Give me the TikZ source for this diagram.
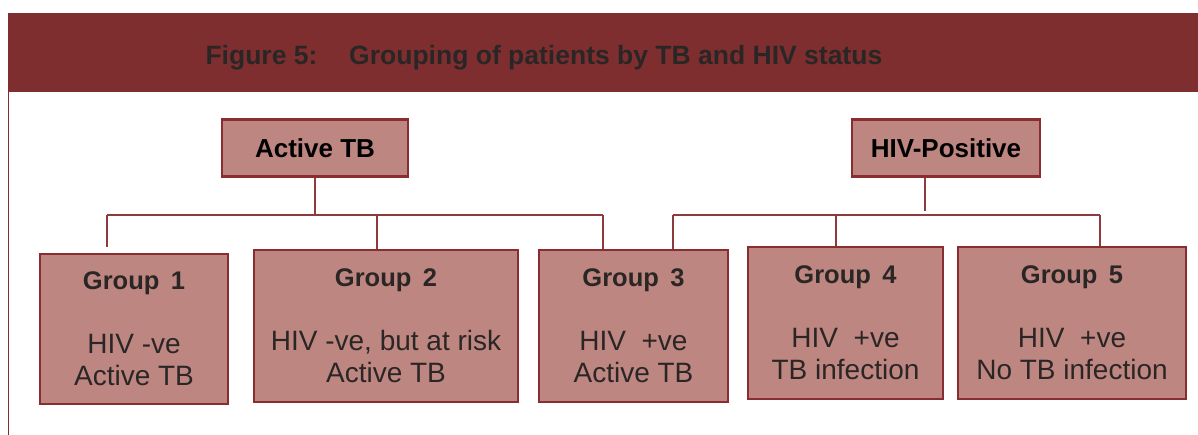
\documentclass[tikz,border=0pt]{standalone}
\usepackage{fontspec}
\setmainfont{Liberation Sans}
\definecolor{bandred}{HTML}{7F2E2F}
\definecolor{boxfill}{HTML}{BE8680}
\definecolor{boxline}{HTML}{8A2D30}
\definecolor{linkred}{HTML}{8E3B3E}
\definecolor{titlegray}{HTML}{2B2626}
\newcommand{\grouphead}[1]{{\fontsize{25.5}{32}\selectfont\bfseries Group\hspace{0.45em}#1}}
\tikzset{
    topbox/.style={draw=boxline, fill=boxfill, line width=2.4pt, minimum height=57pt,
        font=\fontsize{26}{30}\selectfont\bfseries, text=black},
    groupbox/.style={draw=boxline, fill=boxfill, line width=2.4pt, minimum height=152pt,
        align=center, font=\fontsize{28}{32}\selectfont, text=titlegray},
    link/.style={draw=linkred, line width=1.3pt}
}
\begin{document}
\begin{tikzpicture}[x=1pt, y=-1pt]
        \useasboundingbox (0,0) rectangle (1198,435);
        % header band
        \fill [bandred] (8,13) rectangle (1198,92);
        \draw [bandred, line width=1pt] (8,92) -- (8,435);
        \node (title) [anchor=base west, text=titlegray, font=\fontsize{26.5}{30}\selectfont\bfseries]
            at (202,65) {Figure 5:\hspace{22pt} Grouping of patients by TB and HIV status};

        \node (activetb) [topbox, minimum width=186pt] at (315,148) {Active TB};
        \node (hivpos) [topbox, minimum width=188pt] at (946,148) {HIV-Positive};

        \node (g1) [groupbox, minimum width=188pt, minimum height=150pt] at (134,329)
            {\grouphead{1}\\[32pt]HIV -ve\\Active TB};
        \node (g2) [groupbox, minimum width=264pt] at (386,326)
            {\grouphead{2}\\[32pt]HIV -ve, but at risk\\Active TB};
        \node (g3) [groupbox, minimum width=189pt] at (633.5,326)
            {\grouphead{3}\\[32pt]HIV\ \ +ve\\Active TB};
        \node (g4) [groupbox, minimum width=195pt] at (845.5,323)
            {\grouphead{4}\\[32pt]HIV\ \ +ve\\TB infection};
        \node (g5) [groupbox, minimum width=228pt] at (1072,323)
            {\grouphead{5}\\[32pt]HIV\ \ +ve\\No TB infection};

        % Active TB bus
        \coordinate (tbL) at (107,215);
        \coordinate (tbR) at (603,215);
        \coordinate (tbM) at (377,215);
        \draw [link] (activetb.south) -- (activetb |- tbL);
        \draw [link] (tbL) -- (tbR);
        \draw [link] (tbL) -- ++(0,32);
        \draw [link] (tbM) -- (tbM |- g2.north);
        \draw [link] (tbR) -- (tbR |- g3.north);

        % HIV bus
        \coordinate (hivL) at (673,215);
        \coordinate (hivM) at (836,215);
        \coordinate (hivR) at (1100,215);
        \draw [link] (hivpos.south -| 925,0) -- (925,211);
        \draw [link] (hivL) -- (hivR);
        \draw [link] (hivL) -- (hivL |- g3.north);
        \draw [link] (hivM) -- (hivM |- g4.north);
        \draw [link] (hivR) -- (hivR |- g5.north);
\end{tikzpicture}
\end{document}
